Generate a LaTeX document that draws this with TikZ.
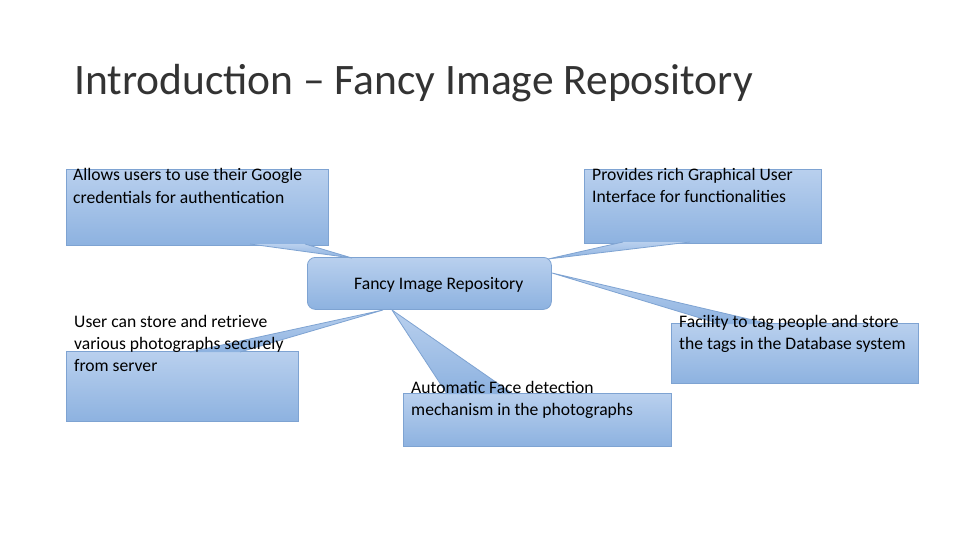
\documentclass[tikz,border=0pt]{standalone}
\usepackage{fontspec}
\setmainfont{Carlito}
\begin{document}
\begin{tikzpicture}[x=1pt,y=-1pt,
  callout/.style={draw=bordc,top color=topc,bottom color=botc,line width=0.8pt,inner sep=0pt,anchor=north west,align=left},
  wedgefill/.style={top color=topc,bottom color=botc},
  wedgeline/.style={draw=bordc,line width=0.8pt}]
\definecolor{topc}{HTML}{B9D0EE}
\definecolor{botc}{HTML}{8DB2E0}
\definecolor{bordc}{HTML}{7EA3D2}
\useasboundingbox (0,0) rectangle (960,540);
\fill[white] (0,0) rectangle (960,540);
\node[anchor=base west,inner sep=0pt,font=\fontsize{43.5}{50}\selectfont,text=black!80] (title) at (74,95) {Introduction -- Fancy Image Repository};
% boxes
\node[callout,minimum width=262pt,minimum height=76pt] (g) at (66,169) {};
\node[callout,minimum width=237pt,minimum height=74pt] (p) at (584,169) {};
\node[callout,minimum width=247pt,minimum height=60pt] (f) at (671,323) {};
\node[callout,minimum width=232pt,minimum height=70pt] (u) at (66,351) {};
\node[callout,minimum width=268pt,minimum height=53pt] (a) at (403,393) {};
\node[callout,rounded corners=8pt,minimum width=244pt,minimum height=52pt] (c) at (307,257) {};
% wedges
\coordinate (gt) at (352,258); \coordinate (g1) at (250,244); \coordinate (g2) at (305,244);
\coordinate (pt) at (548,259); \coordinate (p1) at (623,242); \coordinate (p2) at (690,242);
\coordinate (ft) at (552,273); \coordinate (f1) at (720,324); \coordinate (f2) at (770,324);
\coordinate (ut) at (383,310); \coordinate (u1) at (190,352); \coordinate (u2) at (240,352);
\coordinate (at) at (392,310); \coordinate (a1) at (447,394); \coordinate (a2) at (513,394);
\foreach \t/\b/\c in {gt/g1/g2,pt/p1/p2,ft/f1/f2,ut/u1/u2,at/a1/a2}{
  \shade[wedgefill] (\b) -- (\t) -- (\c) -- cycle;
  \draw[wedgeline] (\b) -- (\t) -- (\c);
}
% texts
\tikzset{lbl/.style={anchor=base west,align=left,inner sep=0pt,font=\fontsize{17.6}{22}\selectfont}}
\node[lbl] (gl) at (73,203) {Allows users to use their Google\\credentials for authentication};
\node[lbl] (pl) at (592,202) {Provides rich Graphical User\\Interface for functionalities};
\node[lbl] (cl) at (354,289) {Fancy Image Repository};
\node[lbl] (fl) at (679,349) {Facility to tag people and store\\the tags in the Database system};
\node[lbl] (ul) at (74,371) {User can store and retrieve\\various photographs securely\\from server};
\node[lbl] (al) at (411,415) {Automatic Face detection\\mechanism in the photographs};
\end{tikzpicture}
\end{document}
